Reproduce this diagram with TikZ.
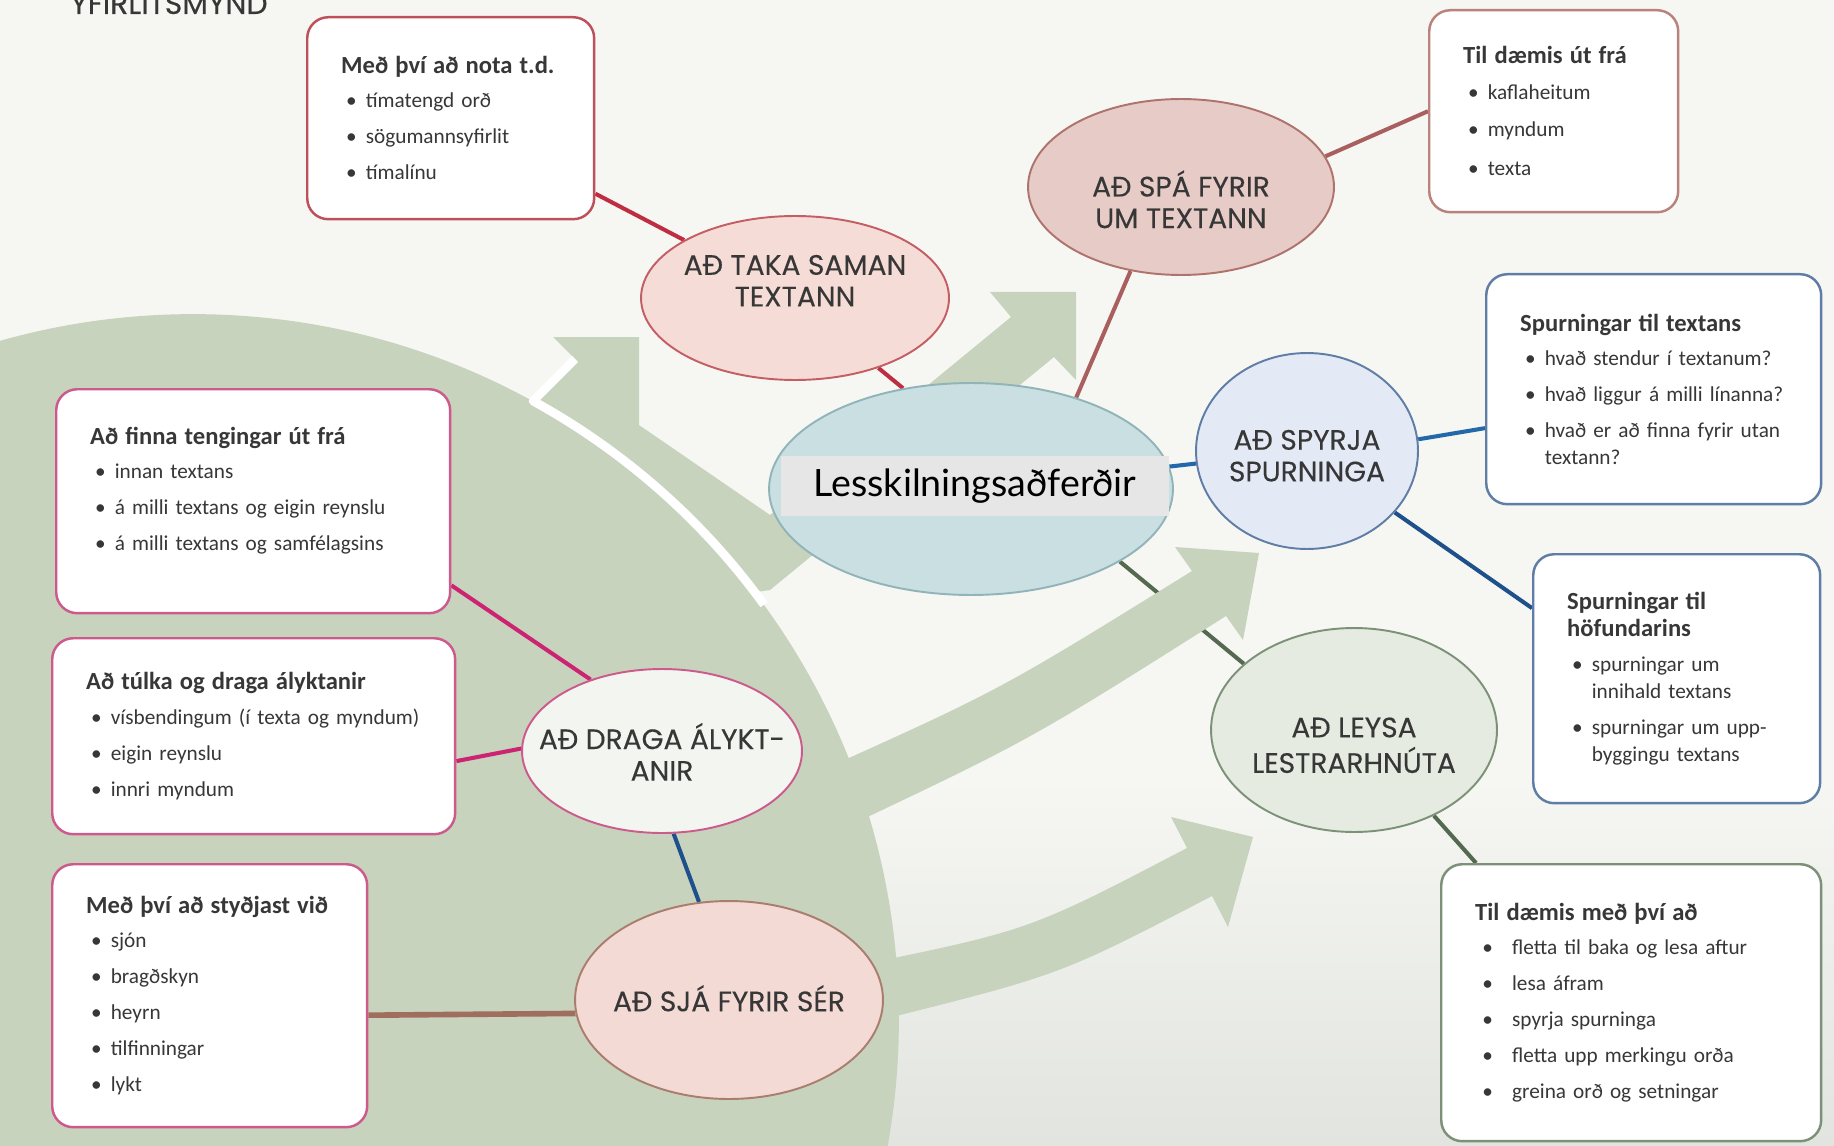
\documentclass[tikz,border=0pt]{standalone}
\usepackage{fontspec}
\setmainfont{Carlito}
\newfontfamily\gothic[FakeBold=0.25]{Poppins}
\newfontfamily\labelfont{Lato}
\usepackage{tikz}
\usetikzlibrary{shapes.geometric,positioning,backgrounds,calc}
\definecolor{bgpaper}{RGB}{246,247,243}
\definecolor{bgshade}{RGB}{226,228,224}
\definecolor{sage}{RGB}{199,211,189}
\definecolor{inkgrey}{RGB}{55,55,55}
\definecolor{redline}{RGB}{190,80,90}
\definecolor{roseline}{RGB}{185,130,125}
\definecolor{blueline}{RGB}{95,125,165}
\definecolor{greenline}{RGB}{125,145,120}
\definecolor{pinkline}{RGB}{205,90,140}
\definecolor{takafill}{RGB}{246,220,215}
\definecolor{takaline}{RGB}{195,95,100}
\definecolor{spafill}{RGB}{230,203,198}
\definecolor{spaline}{RGB}{175,115,110}
\definecolor{midfill}{RGB}{202,223,225}
\definecolor{midline}{RGB}{145,180,185}
\definecolor{spyrjafill}{RGB}{228,233,246}
\definecolor{leysafill}{RGB}{229,235,225}
\definecolor{dragafill}{RGB}{243,245,241}
\definecolor{sjafill}{RGB}{243,218,212}
\definecolor{sjaline}{RGB}{170,125,110}
\definecolor{labelgrey}{RGB}{230,230,230}
\definecolor{linkred}{RGB}{190,45,65}
\definecolor{linkrose}{RGB}{170,95,95}
\definecolor{linkblue}{RGB}{35,105,170}
\definecolor{linknavy}{RGB}{30,80,140}
\definecolor{linkgreen}{RGB}{85,105,80}
\definecolor{linkmagenta}{RGB}{205,35,115}
\definecolor{linkbrown}{RGB}{160,110,95}
\newcommand{\boxhead}[1]{\mbox{\fontsize{14}{17}\selectfont\bfseries #1}}
\newcommand{\bul}[1]{\mbox{\makebox[14pt][l]{\hspace{2.8pt}•}#1}}
\newcommand{\bulw}[1]{\mbox{\makebox[21pt][l]{\hspace{4pt}•}#1}}
\newcommand{\bubtext}[2]{\raisebox{#1}[0pt][0pt]{\makebox[0pt]{\begin{tabular}{@{}c@{}}#2\end{tabular}}}}

\begin{document}
\begin{tikzpicture}[x=0.02cm, y=-0.02cm,
box/.style={draw, rounded corners=0.42cm, fill=white, line width=1.4pt, anchor=north west, align=left, inner xsep=0.68cm, inner ysep=0pt, text=inkgrey, font=\fontsize{12.1}{15.5}\selectfont},
bubble/.style={ellipse, draw, line width=1.1pt, inner sep=0pt, text=inkgrey, font=\gothic\fontsize{16}{18}\selectfont},
link/.style={line width=2.3pt},
gap/.style={white, line width=5pt, line join=round}
]
\useasboundingbox (0,0) rectangle (1834,1145);
\clip (0,0) rectangle (1834,1145);

\node[anchor=base west, text=inkgrey, font=\gothic\fontsize{17}{20}\selectfont, inner sep=0pt] (heading) at (70,14) {YFIRLITSMYND};

\node[bubble, fill=takafill, draw=takaline, minimum width=6.16cm, minimum height=3.28cm] (takasaman) at (795,298) {\bubtext{3.5pt}{AÐ TAKA SAMAN\\TEXTANN}};
\node[bubble, fill=spafill, draw=spaline, minimum width=6.12cm, minimum height=3.52cm] (spafyrir) at (1181,187) {\bubtext{-14pt}{AÐ SPÁ FYRIR\\UM TEXTANN}};
\node[bubble, fill=midfill, draw=midline, minimum width=8.08cm, minimum height=4.24cm] (lesskiln) at (971,489) {};
\node[fill=labelgrey, minimum width=7.78cm, minimum height=1.22cm, inner sep=0pt, font=\labelfont\fontsize{21.4}{24}\selectfont] (lesskilnlabel) at (975,486) {Lesskilningsaðferðir};
\node[bubble, fill=spyrjafill, draw=blueline, minimum width=4.44cm, minimum height=3.92cm] (spyrja) at (1307,451) {\bubtext{-9pt}{AÐ SPYRJA\\SPURNINGA}};
\node[bubble, fill=leysafill, draw=greenline, minimum width=5.72cm, minimum height=4.08cm] (leysa) at (1354,730) {\bubtext{-15pt}{AÐ LEYSA\\LESTRARHNÚTA}};
\node[bubble, fill=dragafill, draw=pinkline, minimum width=5.6cm, minimum height=3.28cm] (draga) at (662,751) {\bubtext{-7.5pt}{AÐ DRAGA ÁLYKT-\\ANIR}};
\node[bubble, fill=sjafill, draw=sjaline, minimum width=6.16cm, minimum height=3.96cm] (sjafyrir) at (729,1000) {\bubtext{-6pt}{AÐ SJÁ FYRIR SÉR}};

\node[box, draw=redline, text width=4.38cm, minimum height=4.04cm] (notatd) at (306,16) {\boxhead{Með því að nota t.d.}\\[4pt]\bul{tímatengd orð}\\[5pt]\bul{sögumannsyfirlit}\\[5pt]\bul{tímalínu}};
\node[box, draw=roseline, text width=3.62cm, minimum height=4.04cm] (utfra) at (1428,9) {\boxhead{Til dæmis út frá}\\[5pt]\bul{kaflaheitum}\\[5pt]\bul{myndum}\\[7pt]\bul{texta}};
\node[box, draw=blueline, text width=5.34cm, minimum height=4.6cm] (tiltextans) at (1485,273) {\boxhead{Spurningar til textans}\\[4pt]\bul{hvað stendur í textanum?}\\[5pt]\bul{hvað liggur á milli línanna?}\\[5pt]\bul{hvað er að finna fyrir utan}\\\hspace*{14pt}textann?};
\node[box, draw=blueline, text width=4.38cm, minimum height=4.98cm] (tilhofundar) at (1532,553) {\boxhead{Spurningar til}\\\boxhead{höfundarins}\\[4pt]\bul{spurningar um}\\\hspace*{14pt}innihald textans\\[5pt]\bul{spurningar um upp-}\\\hspace*{14pt}byggingu textans};
\node[box, draw=greenline, text width=6.24cm, minimum height=5.54cm] (medthvi) at (1440,863) {\boxhead{Til dæmis með því að}\\[4pt]\bulw{fletta til baka og lesa aftur}\\[5pt]\bulw{lesa áfram}\\[5pt]\bulw{spyrja spurninga}\\[5pt]\bulw{fletta upp merkingu orða}\\[5pt]\bulw{greina orð og setningar}};
\node[box, draw=pinkline, text width=6.52cm, minimum height=4.48cm] (tengingar) at (55,388) {\boxhead{Að finna tengingar út frá}\\[4pt]\bul{innan textans}\\[5pt]\bul{á milli textans og eigin reynslu}\\[5pt]\bul{á milli textans og samfélagsins}\rule[-14pt]{0pt}{0pt}};
\node[box, draw=pinkline, text width=6.7cm, minimum height=3.92cm] (tulka) at (51,637) {\boxhead{Að túlka og draga ályktanir}\\[4pt]\bul{vísbendingum (í texta og myndum)}\\[5pt]\bul{eigin reynslu}\\[5pt]\bul{innri myndum}};
\node[box, draw=pinkline, text width=4.94cm, minimum height=5.26cm] (stydjast) at (51,863) {\boxhead{Með því að styðjast við}\\[4pt]\bul{sjón}\\[5pt]\bul{bragðskyn}\\[5pt]\bul{heyrn}\\[5pt]\bul{tilfinningar}\\[5pt]\bul{lykt}};

\begin{scope}[on background layer]
\fill[bgpaper] (0,0) rectangle (1834,1145);
\shade[top color=bgpaper, bottom color=bgshade] (0,780) rectangle (1834,1145);
\fill[sage] (193,1020) circle[radius=14.12cm];
\draw[link, linkred] (notatd) -- (takasaman);
\draw[link, linkred] (takasaman.-40) -- (lesskiln.124);
\draw[link, linkrose] (lesskiln.41) -- (spafyrir.239);
\draw[link, linkrose] (spafyrir.12) -- (utfra.west);
\draw[link, linkblue] (lesskiln) -- (spyrja);
\draw[link, linkblue] (spyrja.6) -- (tiltextans.193);
\draw[link, linknavy] (spyrja.-35) -- (tilhofundar.154);
\draw[link, linkgreen] (lesskiln.-26) -- (leysa.149);
\draw[link, linkgreen] (leysa.-47) -- (medthvi.138);
\draw[link, linkmagenta] (tengingar.-23) -- (draga.135);
\draw[link, linkmagenta] (tulka.-7) -- (draga.179);
\draw[link, linknavy] (draga.-82) -- (sjafyrir.107);
\draw[link, linkbrown, line width=3.2pt] (stydjast.-7) -- (sjafyrir.185);
\fill[sage] (515,430) -- (533,401) -- (575,359) -- (553,337) -- (639,337) -- (639,425) -- (770,515) -- (1011,317) -- (990,292) -- (1076,292) -- (1076,380) -- (1054,357) -- (770,590) -- (700,600) -- cycle;
\draw[gap] (575,359) -- (533,401) arc[start angle=61.2, end angle=36, radius=14.12cm];
\fill[sage] (820,771) .. controls (1000,690) .. (1192,571) -- (1175,547) -- (1259,553) -- (1243,640) -- (1226,616) .. controls (1030,740) .. (840,830) -- cycle;
\fill[sage] (860,965) .. controls (1030,930) .. (1187,848) -- (1171,817) -- (1253,837) -- (1228,927) -- (1212,896) .. controls (1060,975) .. (880,1020) -- cycle;
\end{scope}
\end{tikzpicture}
\end{document}
